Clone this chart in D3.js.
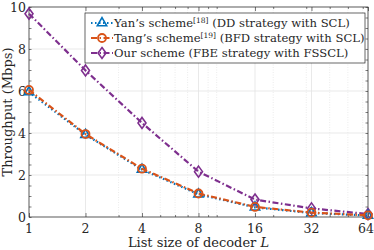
<!DOCTYPE html>
<html>
<head>
<meta charset="utf-8">
<script src="https://cdn.jsdelivr.net/npm/d3@7"></script>
<style>
  body { margin: 0; background: #fff; }
</style>
</head>
<body>
<div id="chart"></div>
<script>
// data
var listSizes = [1, 2, 4, 8, 16, 32, 64];
var yanValues = [5.95, 3.92, 2.26, 1.08, 0.46, 0.19, 0.07];
var tangValues = [6.05, 3.95, 2.3, 1.12, 0.48, 0.21, 0.08];
var ourValues = [9.68, 6.98, 4.48, 2.16, 0.83, 0.41, 0.14];
var yTicks = [0, 2, 4, 6, 8, 10];
var xMinor = [3, 5, 6, 7, 9, 10, 20, 30, 40, 50, 60];

var series = [
  {name: "Yan\u2019s scheme", sup: "[18]", rest: " (DD strategy with SCL)", values: yanValues,
   color: "#0072BD", dash: "1.5,2.5", marker: "triangle"},
  {name: "Tang\u2019s scheme", sup: "[19]", rest: " (BFD strategy with SCL)", values: tangValues,
   color: "#D95319", dash: "6,2.5,1.5,2.5", marker: "circle"},
  {name: "Our scheme (FBE strategy with FSSCL)", sup: "", rest: "", values: ourValues,
   color: "#7E2F8E", dash: "6,2.5,1.5,2.5", marker: "diamond"}
];

var W = 374, H = 250;
var margin = {top: 7, right: 6, bottom: 33, left: 29},
    width = W - margin.left - margin.right,
    height = H - margin.top - margin.bottom;

var svg = d3.select("#chart")
  .append("svg")
    .attr("width", W)
    .attr("height", H)
    .style("font-family", "'DejaVu Serif', serif");
var g = svg.append("g")
    .attr("transform", "translate(" + margin.left + "," + margin.top + ")");

var x = d3.scaleLog().base(2).domain([1, 64]).range([0, width]);
var y = d3.scaleLinear().domain([0, 10]).range([height, 0]);

// grid
g.selectAll(".ygrid").data(yTicks).enter().append("line")
  .attr("x1", 0).attr("x2", width)
  .attr("y1", d => y(d)).attr("y2", d => y(d))
  .attr("stroke", "#e3e3e3").attr("stroke-width", 0.8);
g.selectAll(".xminor").data(xMinor).enter().append("line")
  .attr("x1", d => x(d)).attr("x2", d => x(d))
  .attr("y1", 0).attr("y2", height)
  .attr("stroke", "#e6e6e6").attr("stroke-width", 0.8)
  .attr("stroke-dasharray", "1,1.5");
g.selectAll(".xgrid").data(listSizes).enter().append("line")
  .attr("x1", d => x(d)).attr("x2", d => x(d))
  .attr("y1", 0).attr("y2", height)
  .attr("stroke", "#e3e3e3").attr("stroke-width", 0.8);

// axes with inward ticks
var tickColor = "#262626";
g.append("g")
  .attr("transform", "translate(0," + height + ")")
  .call(d3.axisTop(x).tickValues(listSizes).tickFormat("").tickSize(4))
  .call(a => a.select(".domain").remove());
g.append("g")
  .attr("transform", "translate(0," + height + ")")
  .call(d3.axisTop(x).tickValues(xMinor).tickFormat("").tickSize(2))
  .call(a => a.select(".domain").remove());
g.append("g")
  .call(d3.axisBottom(x).tickValues(listSizes).tickFormat("").tickSize(4))
  .call(a => a.select(".domain").remove());
g.append("g")
  .call(d3.axisBottom(x).tickValues(xMinor).tickFormat("").tickSize(2))
  .call(a => a.select(".domain").remove());
g.append("g")
  .call(d3.axisRight(y).tickValues(d3.range(0, 10.01, 0.5)).tickFormat("").tickSize(2.5))
  .call(a => a.select(".domain").remove());
g.append("g")
  .attr("transform", "translate(" + width + ",0)")
  .call(d3.axisLeft(y).tickValues(d3.range(0, 10.01, 0.5)).tickFormat("").tickSize(2.5))
  .call(a => a.select(".domain").remove());
g.selectAll(".tick line").attr("stroke", tickColor).attr("stroke-width", 0.6);

// tick labels
g.selectAll(".xlab").data(listSizes).enter().append("text")
  .attr("x", d => x(d)).attr("y", height + 16)
  .attr("dx", d => d === 64 ? -2 : 0)
  .attr("text-anchor", "middle").attr("font-size", 12.5).attr("fill", "#262626")
  .text(d => d);
g.selectAll(".ylab").data(yTicks).enter().append("text")
  .attr("x", -3).attr("y", d => y(d) + 4.5)
  .attr("text-anchor", "end").attr("font-size", 12.5).attr("fill", "#262626")
  .text(d => d);

// box
g.append("rect")
  .attr("width", width).attr("height", height)
  .attr("fill", "none").attr("stroke", tickColor).attr("stroke-width", 0.7);

// axis titles
var xt = g.append("text")
  .attr("x", width / 2).attr("y", height + 30)
  .attr("text-anchor", "middle").attr("font-size", 13).attr("fill", "#262626");
xt.append("tspan").text("List size of decoder ");
xt.append("tspan").attr("font-style", "italic").text("L");

g.append("text")
  .attr("transform", "translate(" + (-17) + "," + (height / 2) + ") rotate(-90)")
  .attr("text-anchor", "middle").attr("font-size", 13).attr("fill", "#262626")
  .text("Throughput (Mbps)");

// markers
function drawMarker(sel, type, color) {
  if (type === "circle") {
    sel.append("circle").attr("r", 4)
      .attr("fill", "none").attr("stroke", color).attr("stroke-width", 1.8);
  } else if (type === "triangle") {
    sel.append("path").attr("d", d3.symbol().type(d3.symbolTriangle).size(38))
      .attr("fill", "none").attr("stroke", color).attr("stroke-width", 1.6);
  } else {
    sel.append("path").attr("d", "M0,-5.5L4,0L0,5.5L-4,0Z")
      .attr("fill", "none").attr("stroke", color).attr("stroke-width", 1.6);
  }
}

var line = d3.line().x((d, i) => x(listSizes[i])).y(d => y(d));

// draw in order: ours, yan, tang (tang on top of yan)
[series[2], series[0], series[1]].forEach(function(s) {
  g.append("path")
    .datum(s.values)
    .attr("d", line)
    .attr("fill", "none")
    .attr("stroke", s.color)
    .attr("stroke-width", 2.2)
    .attr("stroke-dasharray", s.dash);
  g.selectAll(null).data(s.values).enter().append("g")
    .attr("transform", (d, i) => "translate(" + x(listSizes[i]) + "," + y(d) + ")")
    .each(function() { drawMarker(d3.select(this), s.marker, s.color); });
});

// legend
var lg = g.append("g").attr("transform", "translate(56,6)");
lg.append("rect")
  .attr("width", 280).attr("height", 50)
  .attr("fill", "#fff").attr("stroke", tickColor).attr("stroke-width", 0.7);
series.forEach(function(s, i) {
  var row = lg.append("g").attr("transform", "translate(0," + (10 + i * 15) + ")");
  row.append("line")
    .attr("x1", 6).attr("x2", 28)
    .attr("stroke", s.color).attr("stroke-width", 2)
    .attr("stroke-dasharray", s.dash);
  var m = row.append("g").attr("transform", "translate(17,0)");
  drawMarker(m, s.marker, s.color);
  var t = row.append("text").attr("x", 29).attr("y", 4)
    .attr("font-size", 11.6).attr("fill", "#262626");
  t.append("tspan").text(s.name);
  if (s.sup) {
    t.append("tspan").attr("font-size", 7.5).attr("dy", -4.5).text(s.sup);
    t.append("tspan").attr("dy", 4.5).text(s.rest);
  }
});
</script>
</body>
</html>
